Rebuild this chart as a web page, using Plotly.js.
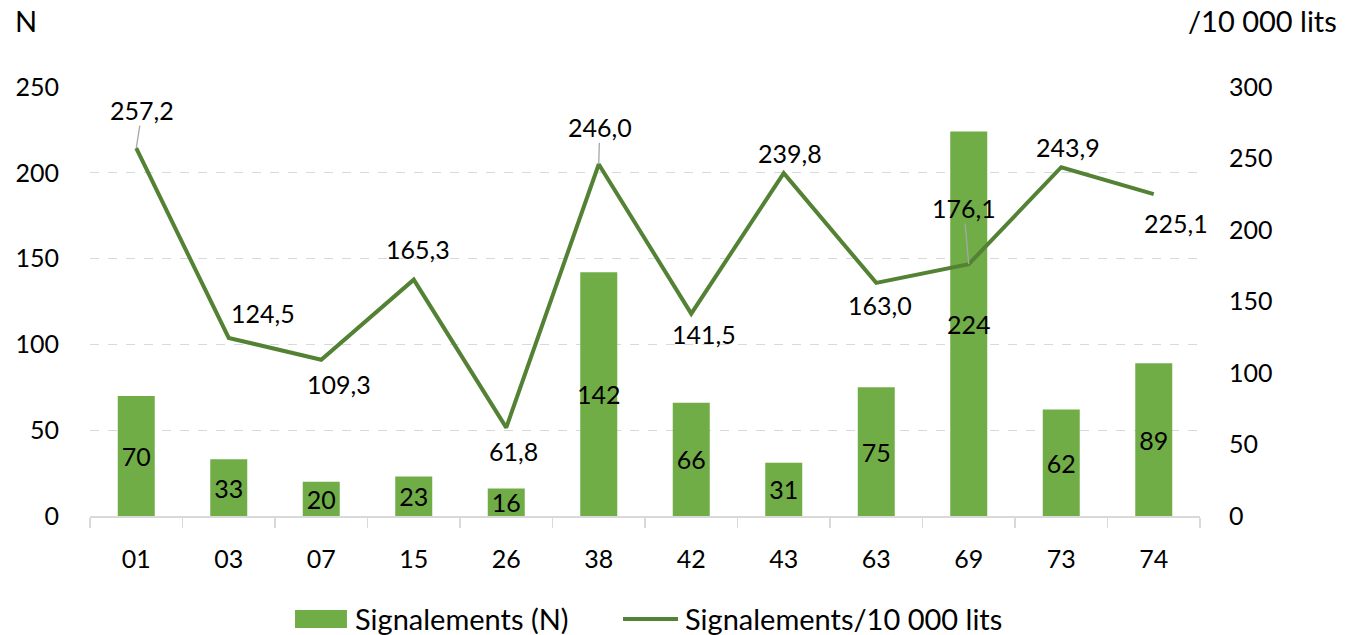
<!DOCTYPE html>
<html>
<head>
<meta charset="utf-8">
<script src="https://cdn.plot.ly/plotly-3.0.1.min.js"></script>
<style>html,body{margin:0;padding:0;background:#fff;}#chart{width:1349px;height:635px;}</style>
</head>
<body>
<div id="chart"></div>
<script>
const categories = ["01","03","07","15","26","38","42","43","63","69","73","74"];
const signalementsN = [70,33,20,23,16,142,66,31,75,224,62,89];
const signalementsPer10000 = [257.2,124.5,109.3,165.3,61.8,246.0,141.5,239.8,163.0,176.1,243.9,225.1];
const leftTicks = [0,50,100,150,200,250];
const rightTicks = [0,50,100,150,200,250,300];
const seriesNames = ["Signalements (N)", "Signalements/10 000 lits"];

// label offsets (pixels) relative to each line point, and whether a leader line is shown
const labelDx = [6,34,18,4,7,1,13,6,4,-5,7,22];
const labelDy = [-38,-25,24,-31,23,-37,20,-20,22,-56,-20,29];
const leader = [true,false,false,false,false,true,false,false,false,true,false,false];

const FONT = "Lato, 'Open Sans', sans-serif";
const BAR_COLOR = '#70ad47';
const LINE_COLOR = '#548235';
const fmt = v => v.toFixed(1).replace('.', ',');

const annotations = signalementsPer10000.map((v,i) => {
  // on a category axis an annotation x is the category index
  const base = {x: i, y: v, xref:'x', yref:'y2', text: fmt(v),
    font:{family:FONT, size:25, color:'#000'}};
  if (leader[i]) {
    return Object.assign(base, {showarrow:true, arrowhead:0, arrowwidth:1.3, arrowcolor:'#a6a6a6',
      ax: labelDx[i], ay: labelDy[i], standoff:0, borderpad:0});
  }
  return Object.assign(base, {showarrow:false, xshift: labelDx[i], yshift: -labelDy[i]});
});
// axis titles
annotations.push({xref:'paper', yref:'paper', x:-0.069, y:1.156, xanchor:'left', yanchor:'middle', text:'N', showarrow:false, font:{family:FONT, size:29, color:'#000'}});
annotations.push({xref:'paper', yref:'paper', x:1.125, y:1.156, xanchor:'right', yanchor:'middle', text:'/10 000 lits', showarrow:false, font:{family:FONT, size:29, color:'#000'}});
// legend texts
annotations.push({xref:'paper', yref:'paper', x:0.2369, y:-0.2378, xanchor:'left', yanchor:'middle', text:seriesNames[0], showarrow:false, font:{family:FONT, size:29, color:'#000'}});
annotations.push({xref:'paper', yref:'paper', x:0.5342, y:-0.2378, xanchor:'left', yanchor:'middle', text:seriesNames[1], showarrow:false, font:{family:FONT, size:29, color:'#000'}});

const shapes = [
  {type:'rect', xref:'paper', yref:'paper', x0:0.1847, x1:0.2315, y0:-0.2611, y1:-0.2191, fillcolor:BAR_COLOR, line:{width:0}},
  {type:'line', xref:'paper', yref:'paper', x0:0.4802, x1:0.5297, y0:-0.2401, y1:-0.2401, line:{color:LINE_COLOR, width:4}}
];

const traces = [
  {type:'bar', name:seriesNames[0], x:categories, y:signalementsN, yaxis:'y',
   marker:{color:BAR_COLOR}, width:0.4,
   text: signalementsN.map(String), textposition:'inside', insidetextanchor:'middle',
   textangle:0, constraintext:'none',
   textfont:{family:FONT, size:25, color:'#000'}, hoverinfo:'skip'},
  {type:'scatter', mode:'lines', name:seriesNames[1], x:categories, y:signalementsPer10000, yaxis:'y2',
   line:{color:LINE_COLOR, width:4}, hoverinfo:'skip'}
];

const layout = {
  width:1349, height:635,
  margin:{l:90, r:149, t:87, b:119, autoexpand:false},
  paper_bgcolor:'#fff', plot_bgcolor:'#fff',
  font:{family:FONT, size:25, color:'#000'},
  showlegend:false,
  xaxis:{type:'category', range:[-0.5, 11.5], tickson:'boundaries', ticks:'outside', ticklen:10, tickwidth:1.5, tickcolor:'#d9d9d9',
    showline:true, linecolor:'#d9d9d9', linewidth:1.5, showgrid:false, ticklabelstandoff:20, tickangle:0,
    tickfont:{family:FONT, size:25, color:'#000'}},
  yaxis:{range:[0,250], tickvals:leftTicks, showgrid:true, gridcolor:'#d9d9d9', griddash:'dash', gridwidth:1.3,
    zeroline:false, showline:false, ticks:'', ticklabelstandoff:30,
    tickfont:{family:FONT, size:25, color:'#000'}},
  yaxis2:{range:[0,300], tickvals:rightTicks, overlaying:'y', side:'right', showgrid:false, zeroline:false,
    showline:false, ticks:'', ticklabelstandoff:28, tickfont:{family:FONT, size:25, color:'#000'}},
  annotations: annotations,
  shapes: shapes,
  bargap:0.6
};

Plotly.newPlot('chart', traces, layout, {staticPlot:true, displayModeBar:false});
</script>
</body>
</html>
